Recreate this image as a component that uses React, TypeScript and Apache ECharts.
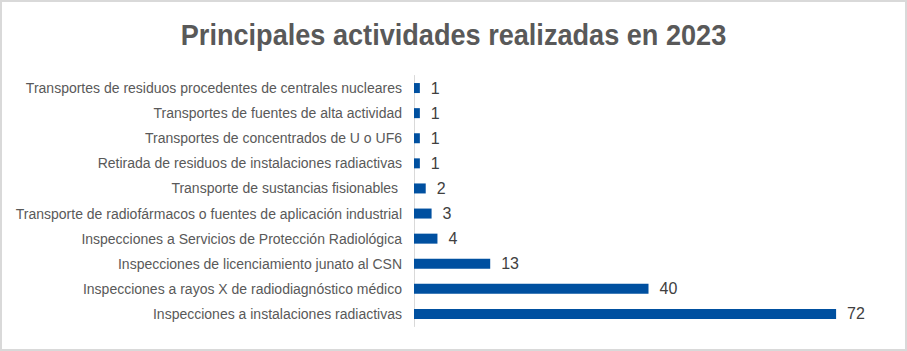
import React, { useEffect, useRef } from "react";
import * as echarts from "echarts";

const categories = [
  "Transportes de residuos procedentes de centrales nucleares",
  "Transportes de fuentes de alta actividad",
  "Transportes de concentrados de U o UF6",
  "Retirada de residuos de instalaciones radiactivas",
  "Transporte de sustancias fisionables ",
  "Transporte de radiofármacos o fuentes de aplicación industrial",
  "Inspecciones a Servicios de Protección Radiológica",
  "Inspecciones de licenciamiento junato al CSN",
  "Inspecciones a rayos X de radiodiagnóstico médico",
  "Inspecciones a instalaciones radiactivas",
];
const values = [1, 1, 1, 1, 2, 3, 4, 13, 40, 72];
const title = "Principales actividades realizadas en 2023";

export default function App() {
  const ref = useRef<HTMLDivElement>(null);
  useEffect(() => {
    document.body.style.margin = "0";
    const chart = echarts.init(ref.current!, null, { renderer: "svg" });
    chart.setOption({
      animation: false,
      backgroundColor: "#ffffff",
      graphic: [
        {
          type: "rect",
          shape: { x: 1, y: 1, width: 905, height: 349 },
          style: { fill: "none", stroke: "#d9d9d9", lineWidth: 2 },
          silent: true,
        },
        {
          type: "text",
          x: 453.5,
          y: 35.5,
          scaleX: 0.935,
          silent: true,
          style: {
            text: title,
            align: "center",
            verticalAlign: "middle",
            fontFamily: "Liberation Sans",
            fontWeight: "bold",
            fontSize: 29,
            fill: "#595959",
          },
        },
      ],
      grid: { left: 414, top: 75.5, width: 469, height: 251, containLabel: false },
      xAxis: {
        type: "value",
        min: 0,
        max: 80,
        show: false,
        splitLine: { show: false },
      },
      yAxis: {
        type: "category",
        data: categories,
        inverse: true,
        axisLine: { show: true, lineStyle: { color: "#d9d9d9", width: 1 } },
        axisTick: { show: false },
        axisLabel: {
          margin: 12,
          fontFamily: "Liberation Sans",
          fontSize: 14,
          color: "#595959",
        },
      },
      series: [
        {
          type: "bar",
          data: values,
          barWidth: 10,
          itemStyle: { color: "#0050a0" },
          label: {
            show: true,
            position: "right",
            distance: 11,
            fontFamily: "Liberation Sans",
            fontSize: 16,
            color: "#404040",
          },
        },
      ],
    });
    return () => chart.dispose();
  }, []);
  return <div ref={ref} style={{ width: 907, height: 351 }} />;
}
